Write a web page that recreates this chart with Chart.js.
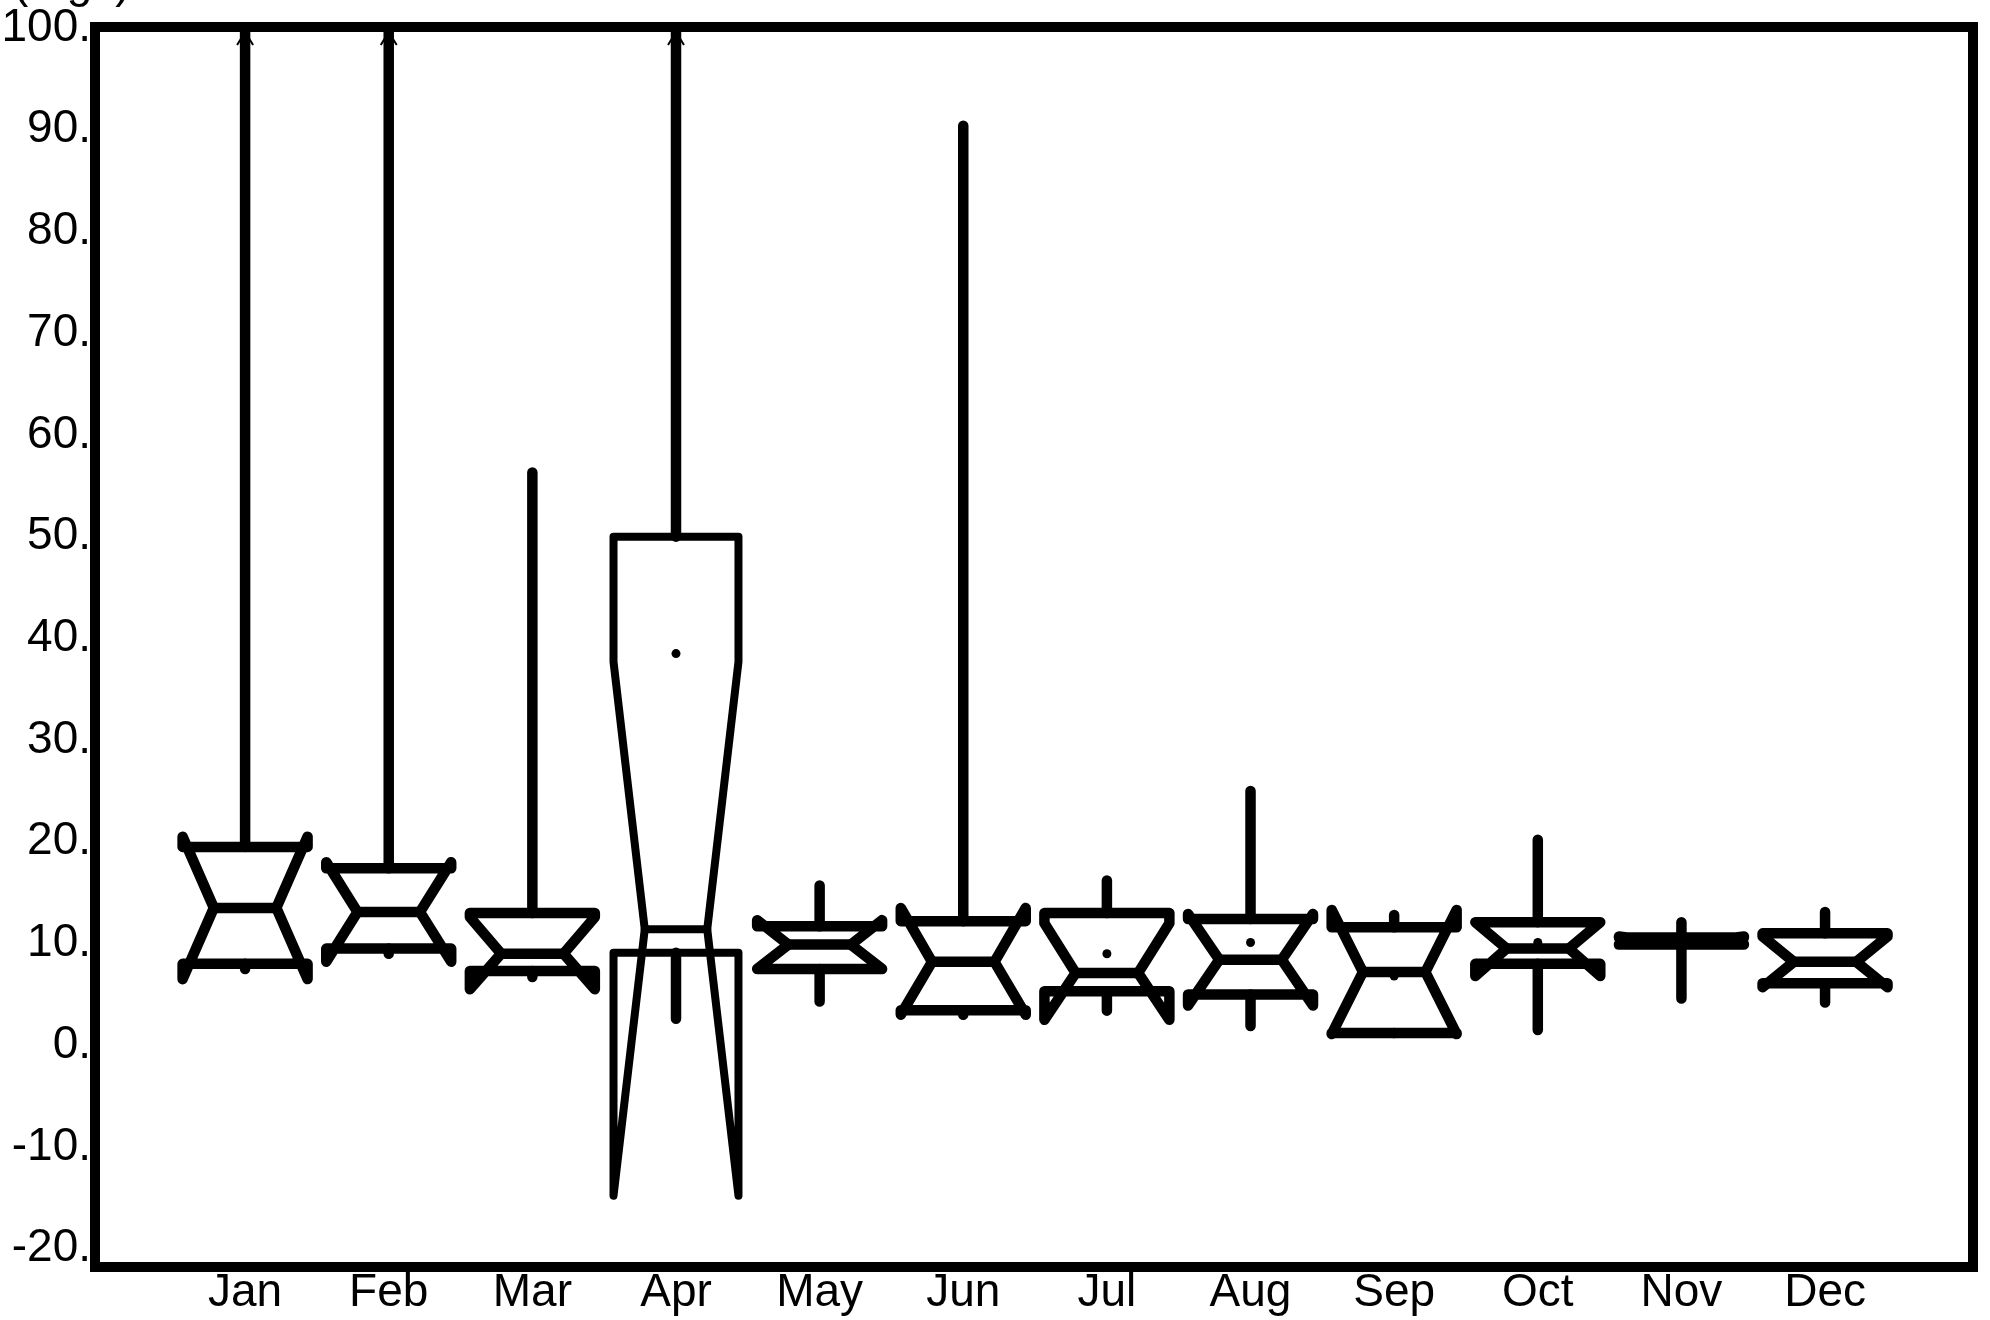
<!DOCTYPE html>
<html>
<head>
<meta charset="utf-8">
<script src="https://cdn.jsdelivr.net/npm/chart.js@4/dist/chart.umd.min.js"></script>
<style>
  html, body { margin: 0; padding: 0; background: #fff; }
</style>
</head>
<body>
<canvas id="chart" width="1990" height="1320"></canvas>
<script>
const months = ["Jan", "Feb", "Mar", "Apr", "May", "Jun", "Jul", "Aug", "Sep", "Oct", "Nov", "Dec"]

// box stats (mg/l)
const q1 = [8.0, 9.5, 7.3, 9.1, 7.5, 3.45, 5.3, 5.0, 1.2, 8.0, 9.9, 6.1]
const median = [13.5, 13.1, 9.0, 11.4, 9.9, 8.2, 7.1, 8.4, 7.2, 9.5, 10.3, 8.2]
const q3 = [19.5, 17.4, 13.0, 50.0, 11.7, 12.2, 13.0, 12.4, 11.6, 12.1, 10.6, 11.0]
const notchLo = [6.5, 8.2, 5.5, -14.8, 7.5, 3.0, 2.5, 3.9, 1.1, 6.8, 9.9, 5.7]
const notchHi = [20.5, 18.0, 12.6, 37.7, 12.3, 13.5, 12.0, 12.9, 13.3, 12.1, 10.7, 10.7]
const whiskerLo = [7.5, 9.0, 6.7, 2.6, 4.3, 3.0, 3.4, 1.9, 1.2, 1.5, 4.6, 4.2]
// Jan, Feb and Apr run off the top of the scale
const whiskerHi = [120, 120, 56.3, 120, 15.7, 90.4, 16.2, 25.0, 12.8, 20.2, 12.1, 13.1]
const means = [null, null, null, 38.5, null, null, 9.0, 10.1, 6.8, 10.1, null, null]

const yTicks = [100, 90, 80, 70, 60, 50, 40, 30, 20, 10, 0, -10, -20]
const yTitle = "(mg/l)"

const boxHalf = 0.435
const notchFrac = 0.5

const notchedBoxes = {
  id: "notchedBoxes",
  afterDatasetsDraw(chart) {
    const { ctx, chartArea, scales: { x, y } } = chart
    const py = (v) => y.getPixelForValue(v)
    ctx.save()
    ctx.beginPath()
    ctx.rect(chartArea.left, chartArea.top, chartArea.width, chartArea.height)
    ctx.clip()
    ctx.strokeStyle = "#000"
    ctx.lineCap = "round"
    ctx.lineJoin = "round"

    months.forEach((m, i) => {
      const xc = x.getPixelForValue(i)
      const xl = x.getPixelForValue(i - boxHalf)
      const xr = x.getPixelForValue(i + boxHalf)
      const xnl = x.getPixelForValue(i - boxHalf * notchFrac)
      const xnr = x.getPixelForValue(i + boxHalf * notchFrac)

      // whiskers
      ctx.lineWidth = 10.5
      ctx.beginPath()
      ctx.moveTo(xc, py(q3[i]))
      ctx.lineTo(xc, py(whiskerHi[i]))
      ctx.moveTo(xc, py(q1[i]))
      ctx.lineTo(xc, py(whiskerLo[i]))
      ctx.stroke()

      // notched box outline
      ctx.lineWidth = i === 3 ? 8 : 10.5
      ctx.beginPath()
      ctx.moveTo(xl, py(q1[i]))
      ctx.lineTo(xr, py(q1[i]))
      ctx.lineTo(xr, py(notchLo[i]))
      ctx.lineTo(xnr, py(median[i]))
      ctx.lineTo(xr, py(notchHi[i]))
      ctx.lineTo(xr, py(q3[i]))
      ctx.lineTo(xl, py(q3[i]))
      ctx.lineTo(xl, py(notchHi[i]))
      ctx.lineTo(xnl, py(median[i]))
      ctx.lineTo(xl, py(notchLo[i]))
      ctx.closePath()
      ctx.stroke()

      // median
      ctx.beginPath()
      ctx.moveTo(xnl, py(median[i]))
      ctx.lineTo(xnr, py(median[i]))
      ctx.stroke()

      // arrow for whiskers beyond the top of the scale
      if (whiskerHi[i] > y.max) {
        const top = chartArea.top + 5
        ctx.lineWidth = 2
        ctx.lineCap = "butt"
        ctx.beginPath()
        ctx.moveTo(xc - 8, top + 13)
        ctx.lineTo(xc, top)
        ctx.lineTo(xc + 8, top + 13)
        ctx.stroke()
        ctx.lineCap = "round"
      }
    })
    ctx.restore()
  },
  afterDraw(chart) {
    const { ctx, chartArea } = chart
    ctx.save()
    ctx.strokeStyle = "#000"
    ctx.lineWidth = 10
    ctx.lineJoin = "miter"
    ctx.strokeRect(chartArea.left, chartArea.top, chartArea.width, chartArea.height)
    ctx.fillStyle = "#000"
    ctx.font = "46px 'Liberation Sans', Arial, sans-serif"
    ctx.textBaseline = "alphabetic"
    ctx.textAlign = "left"
    ctx.fillText(yTitle, 13, chartArea.top - 30)
    ctx.restore()
  },
}

const tickFont = { family: "'Liberation Sans', Arial, sans-serif", size: 46, lineHeight: 1 }

const config = {
  type: "scatter",
  data: {
    datasets: [
      {
        label: "mean",
        data: means.map((v, i) => ({ x: i, y: v })).filter((p) => p.y !== null),
        pointRadius: 4.5,
        pointHoverRadius: 4.5,
        backgroundColor: "#000",
        borderWidth: 0,
      },
    ],
  },
  options: {
    responsive: false,
    animation: false,
    layout: {
      padding: { top: 24, right: 17, left: 0, bottom: 0 },
    },
    plugins: {
      legend: { display: false },
      tooltip: { enabled: false },
    },
    scales: {
      x: {
        type: "linear",
        min: -1.045,
        max: 12.03,
        grid: { display: false, drawTicks: false },
        border: { display: false },
        afterBuildTicks: (scale) => {
          scale.ticks = months.map((m, i) => ({ value: i }))
        },
        afterFit: (scale) => {
          scale.height = 53
        },
        ticks: {
          color: "#000",
          font: tickFont,
          padding: 3,
          maxRotation: 0,
          autoSkip: false,
          callback: (value) => months[value],
        },
      },
      y: {
        min: -21.8,
        max: 100.1,
        grid: { display: false, drawTicks: false },
        border: { display: false },
        afterBuildTicks: (scale) => {
          scale.ticks = yTicks.map((v) => ({ value: v }))
        },
        afterFit: (scale) => {
          scale.width = 95
        },
        ticks: {
          color: "#000",
          font: tickFont,
          padding: 4,
          callback: (value) => value + ".",
        },
      },
    },
  },
  plugins: [notchedBoxes],
}

const myChart = new Chart(document.getElementById("chart"), config)
</script>
</body>
</html>
